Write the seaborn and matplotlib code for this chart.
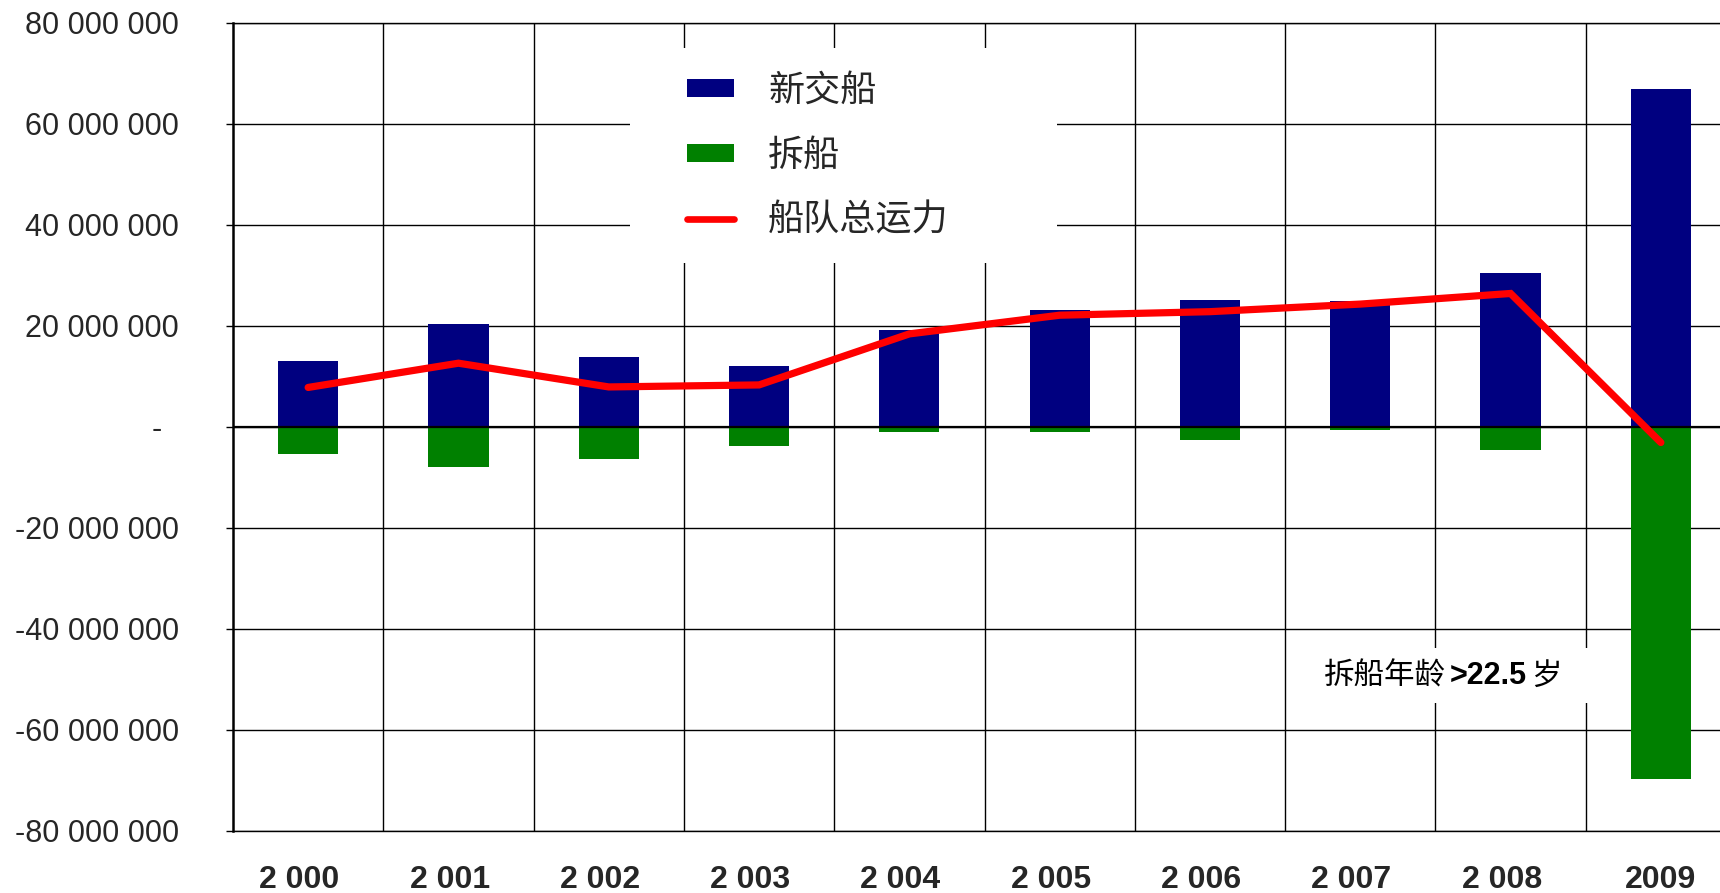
import numpy as np
import pandas as pd
import matplotlib
matplotlib.use("Agg")
import matplotlib.pyplot as plt
import seaborn as sns
from matplotlib.patches import Rectangle
from matplotlib.lines import Line2D
from matplotlib.patches import Patch
from matplotlib.offsetbox import TextArea, HPacker, AnnotationBbox
from matplotlib.ticker import FuncFormatter

# ---- data ----
years = ["2 000", "2 001", "2 002", "2 003", "2 004", "2 005", "2 006", "2 007", "2 008", "2009"]
new_ships = [13.1e6, 20.4e6, 13.9e6, 12.0e6, 19.2e6, 23.1e6, 25.1e6, 24.9e6, 30.4e6, 66.9e6]
scrapped = [-5.3e6, -7.9e6, -6.4e6, -3.7e6, -1.0e6, -1.0e6, -2.6e6, -0.6e6, -4.5e6, -69.8e6]
fleet_net = [7.8e6, 12.6e6, 7.9e6, 8.3e6, 18.4e6, 22.1e6, 22.8e6, 24.3e6, 26.4e6, -3.1e6]
yticks = [-80e6, -60e6, -40e6, -20e6, 0, 20e6, 40e6, 60e6, 80e6]
legend_labels = ["新交船", "拆船", "船队总运力"]
note_parts = ["拆船年龄", ">22.5", "岁"]

NAVY = "#000080"
GREEN = "#008000"
RED = "#FF0000"

sns.set_style("white")
plt.rcParams["font.family"] = ["Liberation Sans", "Noto Sans CJK SC", "DejaVu Sans"]

W, H = 1720, 893
fig = plt.figure(figsize=(W / 100, H / 100), dpi=100)
ax_left, ax_right, ax_top, ax_bot = 233, 1736, 22.7, 831
axw, axh = ax_right - ax_left, ax_bot - ax_top
ax = fig.add_axes([ax_left / W, 1 - ax_bot / H, axw / W, axh / H])

def fx(px):
    return (px - ax_left) / axw

def fy(py):
    return (ax_bot - py) / axh

df = pd.DataFrame({"year": years, "new": new_ships, "scrap": scrapped, "net": fleet_net})

sns.barplot(data=df, x="year", y="new", color=NAVY, width=0.4, linewidth=0, saturation=1, ax=ax, zorder=2)
sns.barplot(data=df, x="year", y="scrap", color=GREEN, width=0.4, linewidth=0, saturation=1, ax=ax, zorder=2)
sns.lineplot(data=df, x="year", y="net", color=RED, linewidth=5.2, sort=False, ax=ax, zorder=5,
             solid_capstyle="round", solid_joinstyle="miter")

ax.set_xlim(-0.5, 9.5)
ax.set_ylim(-80e6, 80e6)
ax.set_yticks(yticks)

def fmt(v, pos):
    if abs(v) < 1:
        return "-  "
    return f"{v:,.0f}".replace(",", " ")

ax.yaxis.set_major_formatter(FuncFormatter(fmt))
ax.set_xlabel("")
ax.set_ylabel("")
# Excel-style number format leaves a trailing gap after numeric year labels
ax.set_xticks(range(len(years)))
ax.set_xticklabels([y + "  " if " " in y else y for y in years])

# grid
ax.set_axisbelow(True)
ax.grid(axis="y", which="major", color="black", linewidth=1.0)
ax.set_xticks(np.arange(0.5, 9, 1), minor=True)
ax.grid(axis="x", which="minor", color="black", linewidth=1.0)
ax.grid(axis="x", which="major", visible=False)
ax.axhline(0, color="black", linewidth=1.6, zorder=3)

for s in ["top", "right", "bottom", "left"]:
    ax.spines[s].set_color("black")
    ax.spines[s].set_linewidth(1.0)
ax.spines["left"].set_linewidth(1.8)

ax.tick_params(axis="y", which="major", length=5, width=1, color="black", direction="out",
               labelsize=22, pad=34, left=True)
ax.tick_params(axis="x", which="major", length=0, labelsize=23, pad=24.5)
ax.tick_params(axis="x", which="minor", length=0)
for t in ax.get_xticklabels():
    t.set_fontweight("bold")

# legend background
ax.add_patch(Rectangle((fx(630), fy(263)), fx(1057) - fx(630), fy(48) - fy(263),
                       transform=ax.transAxes, facecolor="white", edgecolor="none", zorder=2.5))
handles = [Patch(facecolor=NAVY, edgecolor="none"), Patch(facecolor=GREEN, edgecolor="none"),
           Line2D([], [], color=RED, linewidth=4.8)]
leg = ax.legend(handles, legend_labels, loc="upper left",
                bbox_to_anchor=(fx(687), fy(73)),
                frameon=False, borderpad=0, borderaxespad=0, handlelength=1.3, handleheight=0.4,
                handletextpad=0.95, labelspacing=0.79,
                prop={"family": ["Noto Sans CJK SC"], "size": 26})
leg.set_zorder(6)

# note with white background
ax.add_patch(Rectangle((fx(1290), fy(703)), fx(1600) - fx(1290), fy(648) - fy(703),
                       transform=ax.transAxes, facecolor="white", edgecolor="none", zorder=3.5))
ta1 = TextArea(note_parts[0], textprops=dict(family=["Noto Sans CJK SC"], size=22, color="black"))
ta2 = TextArea(note_parts[1], textprops=dict(family=["Liberation Sans"], size=22, weight="bold", color="black"))
ta3 = TextArea(note_parts[2], textprops=dict(family=["Noto Sans CJK SC"], size=22, color="black"))
pack = HPacker(children=[ta1, ta2, ta3], align="baseline", pad=0, sep=3)
ab = AnnotationBbox(pack, (fx(1443), fy(676)),
                    xycoords="axes fraction", frameon=False, box_alignment=(0.5, 0.5), pad=0, zorder=4)
ax.add_artist(ab)

fig.savefig("out.png", dpi=100)
